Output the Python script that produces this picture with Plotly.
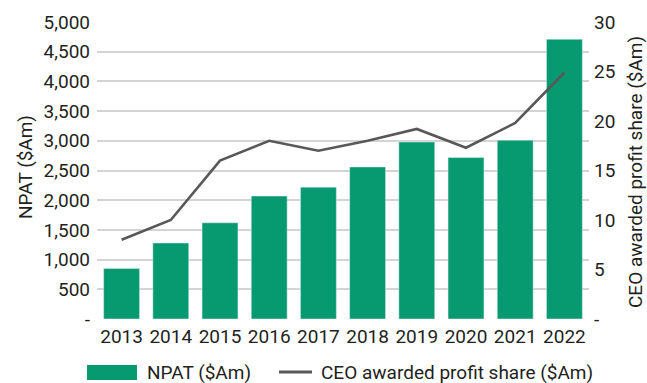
import plotly.graph_objects as go

# NPAT and CEO awarded profit share by year
years = ["2013", "2014", "2015", "2016", "2017", "2018", "2019", "2020", "2021", "2022"]
npat = [850, 1280, 1620, 2070, 2220, 2560, 2980, 2720, 3010, 4710]
ceo_share = [8.0, 10.0, 16.0, 18.0, 17.0, 18.0, 19.2, 17.3, 19.8, 24.9]

npat_ticks = [0, 500, 1000, 1500, 2000, 2500, 3000, 3500, 4000, 4500, 5000]
share_ticks = [0, 5, 10, 15, 20, 25, 30]

GREEN = "#079a70"
LINE = "#58585a"
TEXT = "#231f20"
FONT = "Roboto, sans-serif"
FS = 19

W, H = 647, 383
L, R, T, B = 97, 58, 22, 64
PW, PH = W - L - R, H - T - B


def px(x):
    return (x - L) / PW


def py(y):
    return (H - B - y) / PH


fig = go.Figure()
fig.add_trace(go.Bar(x=years, y=npat, marker_color=GREEN, name="NPAT ($Am)",
                     yaxis="y"))
fig.add_trace(go.Scatter(x=years, y=ceo_share, mode="lines", yaxis="y2",
                         line=dict(color=LINE, width=2.6),
                         name="CEO awarded profit share ($Am)"))

fig.update_layout(
    width=W, height=H,
    margin=dict(l=L, r=R, t=T, b=B),
    paper_bgcolor="white", plot_bgcolor="white",
    showlegend=False,
    bargap=0.27,
    font=dict(family=FONT, size=FS, color=TEXT),
    xaxis=dict(type="category", showgrid=False, showline=False, tickangle=0,
               tickfont=dict(size=FS, color=TEXT), ticklabelstandoff=4),
    yaxis=dict(range=[0, 5000], tickvals=npat_ticks,
               ticktext=["-"] + [f"{v:,}" for v in npat_ticks[1:]],
               showgrid=True, gridcolor="#d4d4d4", gridwidth=1.5,
               zeroline=False, showline=False, ticklabelstandoff=6,
               tickfont=dict(size=FS, color=TEXT)),
    yaxis2=dict(range=[0, 30], tickvals=share_ticks,
                ticktext=["-"] + [str(v) for v in share_ticks[1:]],
                overlaying="y", side="right", showgrid=False,
                zeroline=False, showline=False, ticklabelstandoff=4,
                tickfont=dict(size=FS, color=TEXT)),
)

annotations = [
    dict(text="NPAT ($Am)", x=px(25), y=py(167), textangle=-90),
    dict(text="CEO awarded profit share ($Am)", x=px(636), y=py(172), textangle=-90),
    dict(text="NPAT ($Am)", x=px(145), y=py(372), xanchor="left"),
    dict(text="CEO awarded profit share ($Am)", x=px(319), y=py(372), xanchor="left"),
]
for a in annotations:
    a.update(xref="paper", yref="paper", showarrow=False,
             font=dict(family=FONT, size=FS, color=TEXT))
    a.setdefault("xanchor", "center")
    a["yanchor"] = "middle"
fig.update_layout(annotations=annotations)

fig.add_shape(type="rect", xref="paper", yref="paper",
              x0=px(87), x1=px(137), y0=py(380), y1=py(365),
              fillcolor=GREEN, line_width=0)
fig.add_shape(type="line", xref="paper", yref="paper",
              x0=px(279), x1=px(312), y0=py(372), y1=py(372),
              line=dict(color=LINE, width=3))

fig.write_html("out.html")
